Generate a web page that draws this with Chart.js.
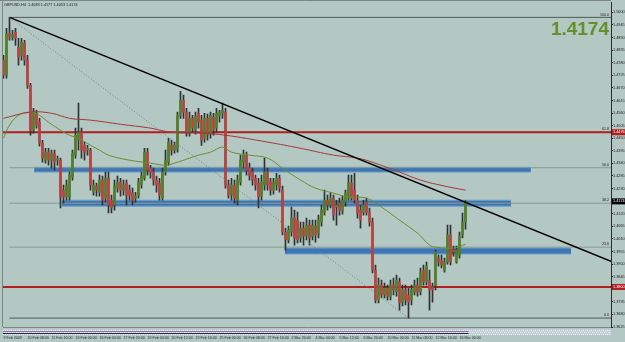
<!DOCTYPE html>
<html>
<head>
<meta charset="utf-8">
<script src="https://cdn.jsdelivr.net/npm/chart.js@4.4.1/dist/chart.umd.min.js"></script>
<style>
  html, body { margin: 0; padding: 0; background: #b3c7c3; }
  #wrap { width: 625px; height: 342px; }
</style>
</head>
<body>
<div id="wrap"><canvas id="chart" width="625" height="342"></canvas></div>
<script>
const symbol = 'GBPUSD,H4';

// time axis labels, one every 8 bars
const timeLabels = ['9 Feb 2009', '10 Feb 08:00', '11 Feb 16:00', '13 Feb 00:00', '16 Feb 04:00',
  '17 Feb 20:00', '19 Feb 04:00', '20 Feb 12:00', '23 Feb 16:00', '25 Feb 00:00', '26 Feb 08:00',
  '27 Feb 16:00', '2 Mar 20:00', '4 Mar 04:00', '5 Mar 12:00', '6 Mar 20:00', '10 Mar 00:00',
  '11 Mar 08:00', '12 Mar 16:00', '16 Mar 00:00'];

const opens = [1.4791,1.4725,1.4908,1.4891,1.4913,1.4847,1.4812,1.4865,1.4791,1.4681,
  1.4485,1.4559,1.4520,1.4428,1.4354,1.4389,1.4354,1.4385,1.4354,1.4354,
  1.4223,1.4193,1.4193,1.4280,1.4376,1.4441,1.4476,1.4419,1.4398,1.4398,
  1.4214,1.4241,1.4214,1.4267,1.4188,1.4275,1.4179,1.4158,1.4232,1.4258,
  1.4223,1.4254,1.4223,1.4210,1.4188,1.4201,1.4249,1.4275,1.4389,1.4319,
  1.4302,1.4267,1.4254,1.4188,1.4302,1.4345,1.4419,1.4398,1.4406,1.4550,
  1.4616,1.4564,1.4476,1.4537,1.4485,1.4559,1.4529,1.4450,1.4537,1.4472,
  1.4542,1.4494,1.4550,1.4559,1.4564,1.4245,1.4201,1.4245,1.4179,1.4258,
  1.4345,1.4376,1.4319,1.4302,1.4275,1.4254,1.4197,1.4245,1.4302,1.4258,
  1.4223,1.4245,1.4275,1.4223,1.4040,1.4005,1.4040,1.4101,1.4092,1.4014,
  1.4057,1.4022,1.4070,1.4022,1.4066,1.4035,1.4083,1.4127,1.4179,1.4158,
  1.4188,1.4149,1.4166,1.4136,1.4171,1.4188,1.4254,1.4223,1.4179,1.4136,
  1.4127,1.4171,1.4127,1.4083,1.3874,1.3743,1.3808,1.3765,1.3795,1.3760,
  1.3808,1.3778,1.3821,1.3734,1.3787,1.3765,1.3743,1.3778,1.3808,1.3778,
  1.3874,1.3821,1.3830,1.3800,1.3808,1.3926,1.3913,1.3874,1.3909,1.4027,
  1.3961,1.3909,1.3939,1.4027,1.4083];
const highs = [1.4812,1.4930,1.4978,1.4921,1.4930,1.4887,1.4887,1.4878,1.4812,1.4690,
  1.4581,1.4572,1.4537,1.4441,1.4406,1.4406,1.4398,1.4398,1.4372,1.4363,
  1.4245,1.4267,1.4302,1.4398,1.4494,1.4603,1.4494,1.4433,1.4419,1.4406,
  1.4267,1.4254,1.4289,1.4284,1.4302,1.4302,1.4201,1.4267,1.4284,1.4275,
  1.4267,1.4267,1.4245,1.4232,1.4214,1.4275,1.4302,1.4406,1.4406,1.4332,
  1.4319,1.4284,1.4275,1.4319,1.4398,1.4450,1.4441,1.4433,1.4564,1.4655,
  1.4638,1.4581,1.4564,1.4550,1.4564,1.4581,1.4550,1.4559,1.4555,1.4564,
  1.4559,1.4581,1.4572,1.4603,1.4581,1.4267,1.4275,1.4267,1.4289,1.4376,
  1.4398,1.4389,1.4341,1.4319,1.4289,1.4275,1.4289,1.4363,1.4319,1.4275,
  1.4275,1.4297,1.4289,1.4241,1.4057,1.4066,1.4149,1.4136,1.4127,1.4083,
  1.4083,1.4101,1.4092,1.4092,1.4092,1.4114,1.4158,1.4223,1.4201,1.4210,
  1.4201,1.4179,1.4188,1.4197,1.4223,1.4289,1.4289,1.4297,1.4201,1.4158,
  1.4179,1.4188,1.4145,1.4101,1.3896,1.3839,1.3830,1.3817,1.3808,1.3830,
  1.3839,1.3852,1.3839,1.3808,1.3808,1.3795,1.3808,1.3830,1.3839,1.3883,
  1.3896,1.3909,1.3874,1.3817,1.3961,1.3939,1.3939,1.3926,1.4070,1.4070,
  1.3979,1.3979,1.4040,1.4123,1.4177];
const lows = [1.4712,1.4712,1.4878,1.4878,1.4856,1.4769,1.4791,1.4769,1.4668,1.4463,
  1.4472,1.4494,1.4415,1.4345,1.4341,1.4332,1.4319,1.4310,1.4332,1.4145,
  1.4166,1.4179,1.4179,1.4267,1.4363,1.4398,1.4363,1.4354,1.4376,1.4223,
  1.4201,1.4197,1.4197,1.4158,1.4171,1.4123,1.4123,1.4136,1.4214,1.4197,
  1.4201,1.4158,1.4179,1.4158,1.4171,1.4188,1.4232,1.4267,1.4289,1.4275,
  1.4245,1.4214,1.4179,1.4179,1.4289,1.4332,1.4376,1.4385,1.4389,1.4537,
  1.4537,1.4459,1.4459,1.4476,1.4468,1.4494,1.4419,1.4433,1.4441,1.4450,
  1.4463,1.4476,1.4520,1.4537,1.4232,1.4188,1.4179,1.4166,1.4158,1.4245,
  1.4319,1.4289,1.4267,1.4245,1.4223,1.4145,1.4179,1.4223,1.4223,1.4201,
  1.4206,1.4223,1.4214,1.4027,1.3961,1.3992,1.4022,1.3983,1.3992,1.3996,
  1.3983,1.4005,1.3983,1.4005,1.3996,1.4014,1.4066,1.4114,1.4136,1.4145,
  1.4092,1.4070,1.4114,1.4118,1.4153,1.4179,1.4179,1.4166,1.4101,1.4057,
  1.4114,1.4114,1.4066,1.3861,1.3730,1.3730,1.3752,1.3752,1.3743,1.3743,
  1.3765,1.3760,1.3699,1.3717,1.3721,1.3664,1.3721,1.3765,1.3760,1.3765,
  1.3808,1.3808,1.3699,1.3734,1.3787,1.3891,1.3883,1.3865,1.3900,1.3896,
  1.3935,1.3904,1.3926,1.4014,1.4053];
const closes = [1.4725,1.4908,1.4891,1.4904,1.4887,1.4804,1.4869,1.4791,1.4681,1.4485,
  1.4559,1.4507,1.4428,1.4363,1.4389,1.4354,1.4385,1.4345,1.4359,1.4193,
  1.4193,1.4245,1.4289,1.4385,1.4463,1.4476,1.4398,1.4389,1.4406,1.4245,
  1.4245,1.4223,1.4267,1.4179,1.4275,1.4158,1.4145,1.4241,1.4258,1.4223,
  1.4245,1.4201,1.4201,1.4179,1.4197,1.4258,1.4284,1.4389,1.4310,1.4302,
  1.4267,1.4245,1.4201,1.4302,1.4354,1.4433,1.4398,1.4419,1.4550,1.4616,
  1.4564,1.4476,1.4537,1.4494,1.4546,1.4520,1.4441,1.4537,1.4463,1.4550,
  1.4485,1.4559,1.4564,1.4572,1.4245,1.4201,1.4245,1.4188,1.4267,1.4354,
  1.4376,1.4310,1.4289,1.4267,1.4245,1.4193,1.4258,1.4302,1.4245,1.4223,
  1.4258,1.4275,1.4232,1.4040,1.4005,1.4049,1.4101,1.4014,1.4005,1.4057,
  1.4022,1.4070,1.4014,1.4070,1.4027,1.4092,1.4136,1.4179,1.4158,1.4188,
  1.4114,1.4158,1.4136,1.4179,1.4210,1.4254,1.4188,1.4179,1.4123,1.4092,
  1.4158,1.4127,1.4083,1.3874,1.3743,1.3808,1.3765,1.3795,1.3760,1.3808,
  1.3787,1.3830,1.3730,1.3787,1.3743,1.3734,1.3787,1.3808,1.3778,1.3865,
  1.3821,1.3891,1.3787,1.3787,1.3953,1.3909,1.3896,1.3909,1.4027,1.3909,
  1.3953,1.3961,1.4022,1.4083,1.4174];

// moving averages, read at a few bars
const maSlowIdx = [0, 9, 16, 22, 29, 39, 49, 56, 66, 74, 88, 99, 110, 118, 123, 132, 139, 147, 154];
const maSlow = [1.4537, 1.4564, 1.4559, 1.4537, 1.4529, 1.4511, 1.4494, 1.4476, 1.4472, 1.4463,
  1.4433, 1.4406, 1.4376, 1.4363, 1.4345, 1.4302, 1.4267, 1.4241, 1.4223];
const maFastIdx = [0, 2, 5, 9, 12, 15, 19, 22, 25, 29, 32, 35, 42, 49, 54, 57, 62, 65, 69, 73,
  76, 82, 88, 93, 99, 104, 110, 115, 121, 126, 132, 138, 142, 144, 150, 154];
const maFast = [1.4450, 1.4507, 1.4550, 1.4564, 1.4550, 1.4520, 1.4485, 1.4463, 1.4450, 1.4419,
  1.4398, 1.4376, 1.4354, 1.4341, 1.4332, 1.4341, 1.4363, 1.4376, 1.4389, 1.4411,
  1.4389, 1.4376, 1.4363, 1.4319, 1.4267, 1.4232, 1.4210, 1.4193, 1.4188, 1.4149,
  1.4092, 1.4035, 1.3983, 1.3974, 1.3970, 1.3987];

const yTicks = [1.5000, 1.4945, 1.4890, 1.4835, 1.4780, 1.4725, 1.4670, 1.4615, 1.4560, 1.4505,
  1.4450, 1.4395, 1.4340, 1.4285, 1.4230, 1.4175, 1.4120, 1.4065, 1.4010, 1.3955,
  1.3900, 1.3845, 1.3790, 1.3735, 1.3680, 1.3625];

// fibonacci retracement (high bar 2 -> low bar 135)
const fibNames = ['100.0', '61.8', '50.0', '38.2', '23.6', '0.0'];
const fibPrices = [1.4978, 1.4476, 1.4321, 1.4166, 1.3974, 1.3664];
const fibFrom = [2, 1.4978];
const fibTo = [135, 1.3664];

// trend line and horizontal lines
const trendX = [2, 202.5];
const trendY = [1.4978, 1.3912];
const redLevels = [1.4476, 1.3800];

// support / resistance rectangles
const bandStart = [10.2, 19.5, 93.8];
const bandEnd = [175.8, 169.2, 189.2];
const bandTop = [1.4323, 1.4179, 1.3970];
const bandBottom = [1.4302, 1.4153, 1.3944];

const X_MIN = -0.1667, X_MAX = 202.5;
const UP = '#537f27', DOWN = '#b94242', WICK = '#2e3433';
const FONT = 'Liberation Sans';

const seg = (x0, y0, x1, y1) => [{ x: x0, y: y0 }, { x: x1, y: y1 }];
const lineDs = (data, color, width, order, extra) => Object.assign({
  type: 'line', data, borderColor: color, borderWidth: width, pointRadius: 0,
  fill: false, order, tension: 0
}, extra || {});

const datasets = [];

bandStart.forEach((s, k) => {
  datasets.push(lineDs(seg(s, bandTop[k], bandEnd[k], bandTop[k]), '#6f9fcc', 1, 10));
  datasets.push(lineDs(seg(s, bandBottom[k], bandEnd[k], bandBottom[k]), '#6f9fcc', 1, 10,
    { fill: '-1', backgroundColor: '#3d77b3' }));
});

fibPrices.forEach((p, k) => {
  const edge = k === 0 || k === fibPrices.length - 1;
  datasets.push(lineDs(seg(fibFrom[0], p, X_MAX, p), edge ? '#4f5b59' : '#8a9896', 1, 9));
});

redLevels.forEach(p => {
  datasets.push(lineDs(seg(X_MIN, p, X_MAX, p), '#b31f1f', 2, 8));
});

datasets.push({
  type: 'bar', data: closes.map((c, i) => ({ x: i, y: [lows[i], highs[i]] })),
  backgroundColor: WICK, barThickness: 1, grouped: false, minBarLength: 1, order: 5
});
datasets.push({
  type: 'bar',
  data: closes.map((c, i) => ({ x: i, y: [Math.min(opens[i], c), Math.max(opens[i], c)] })),
  backgroundColor: closes.map((c, i) => c >= opens[i] ? UP : DOWN),
  barThickness: 2, grouped: false, minBarLength: 1, order: 4
});

datasets.push(lineDs(maSlowIdx.map((x, k) => ({ x, y: maSlow[k] })), '#a23a3a', 1, 3, { tension: 0.4 }));
datasets.push(lineDs(maFastIdx.map((x, k) => ({ x, y: maFast[k] })), '#6b8f2c', 1, 3, { tension: 0.4 }));

datasets.push(lineDs(seg(fibFrom[0], fibFrom[1], fibTo[0], fibTo[1]), '#75827f', 1, 1, { borderDash: [1, 2] }));
datasets.push(lineDs(seg(trendX[0], trendY[0], trendX[1], trendY[1]), '#000000', 1.5, 1));

const overlay = {
  id: 'overlay',
  afterDraw(chart) {
    const { ctx, chartArea: a, scales: { x, y } } = chart;
    const last = closes.length - 1;
    ctx.save();

    // window frame
    ctx.strokeStyle = '#7b8886';
    ctx.lineWidth = 1;
    ctx.beginPath();
    ctx.moveTo(0, 0.5); ctx.lineTo(a.right, 0.5);
    ctx.moveTo(a.left - 0.5, 0); ctx.lineTo(a.left - 0.5, a.bottom);
    ctx.stroke();

    // squeezed indicator strip below the chart
    const sTop = a.bottom + 2;
    ctx.fillStyle = '#c0ccd6';
    ctx.fillRect(a.left, sTop, a.right - a.left, 6);
    ctx.fillStyle = '#eef2f6';
    for (let px = a.left; px < a.right; px += 2) {
      ctx.fillRect(px, sTop + 1, 1, 1);
      ctx.fillRect(px + 1, sTop + 3, 1, 1);
      ctx.fillRect(px, sTop + 5, 1, 1);
    }
    const sEnd = x.getPixelForValue(last) + 3;
    ctx.strokeStyle = '#a3658a';
    ctx.beginPath(); ctx.moveTo(a.left, sTop + 2.5); ctx.lineTo(sEnd, sTop + 2.5); ctx.stroke();
    ctx.strokeStyle = '#20225a';
    ctx.beginPath(); ctx.moveTo(a.left, sTop + 4.5); ctx.lineTo(sEnd, sTop + 4.5); ctx.stroke();

    // title
    ctx.fillStyle = '#1c1c1c';
    ctx.font = `3.8px "${FONT}"`;
    ctx.textBaseline = 'middle';
    ctx.textAlign = 'left';
    const f = v => v.toFixed(4);
    ctx.fillText(`${symbol}  ${f(opens[last])} ${f(highs[last])} ${f(lows[last])} ${f(closes[last])}`, a.left + 1, 5);

    // fib level labels
    ctx.font = `3.6px "${FONT}"`;
    ctx.textAlign = 'right';
    ctx.textBaseline = 'bottom';
    fibPrices.forEach((p, k) => {
      ctx.fillText(fibNames[k], a.right - 2, y.getPixelForValue(p) - 1);
    });

    // big last price
    ctx.fillStyle = '#668e2a';
    ctx.font = `bold 19px "${FONT}"`;
    ctx.textBaseline = 'alphabetic';
    ctx.fillText(f(closes[last]), a.right - 2, 35);

    // price boxes on the axis
    const boxes = redLevels.map(p => [p, '#b31f1f']).concat([[closes[last], '#000000']]);
    ctx.font = `3.8px "${FONT}"`;
    ctx.textAlign = 'left';
    ctx.textBaseline = 'middle';
    boxes.forEach(([p, col]) => {
      const py = y.getPixelForValue(p);
      ctx.fillStyle = col;
      ctx.fillRect(a.right + 1, py - 3, 14, 6);
      ctx.fillStyle = '#ffffff';
      ctx.fillText(f(p), a.right + 2, py);
    });
    ctx.restore();
  }
};

new Chart(document.getElementById('chart'), {
  type: 'bar',
  data: { datasets },
  plugins: [overlay],
  options: {
    responsive: false,
    animation: false,
    devicePixelRatio: 1,
    layout: { padding: { left: 3, top: 2, right: 0, bottom: 0 } },
    plugins: { legend: { display: false }, tooltip: { enabled: false } },
    scales: {
      x: {
        type: 'linear', position: 'bottom', min: X_MIN, max: X_MAX, offset: false,
        afterFit: s => { s.height = 15; },
        afterBuildTicks: s => { s.ticks = timeLabels.map((t, k) => ({ value: k * 8 })); },
        grid: { display: true, drawOnChartArea: false, drawTicks: true, tickLength: 9,
          color: 'rgba(0,0,0,0)', offset: false },
        border: { display: true, color: '#7b8886', width: 1 },
        ticks: {
          autoSkip: false, maxRotation: 0, align: 'start', padding: 0,
          color: '#1c1c1c', font: { family: FONT, size: 3.6 },
          callback: v => timeLabels[Math.round(v / 8)]
        }
      },
      y: {
        type: 'linear', position: 'right', min: 1.3625, max: 1.5044,
        afterFit: s => { s.width = 14; },
        afterBuildTicks: s => { s.ticks = yTicks.map(v => ({ value: v })); },
        grid: { drawOnChartArea: false, drawTicks: true, tickLength: 2, color: '#2b2b2b' },
        border: { display: true, color: '#2b2b2b', width: 1 },
        ticks: {
          autoSkip: false, padding: 0, color: '#1c1c1c',
          font: { family: FONT, size: 3.8 },
          callback: v => v.toFixed(4)
        }
      }
    }
  }
});
</script>
</body>
</html>
